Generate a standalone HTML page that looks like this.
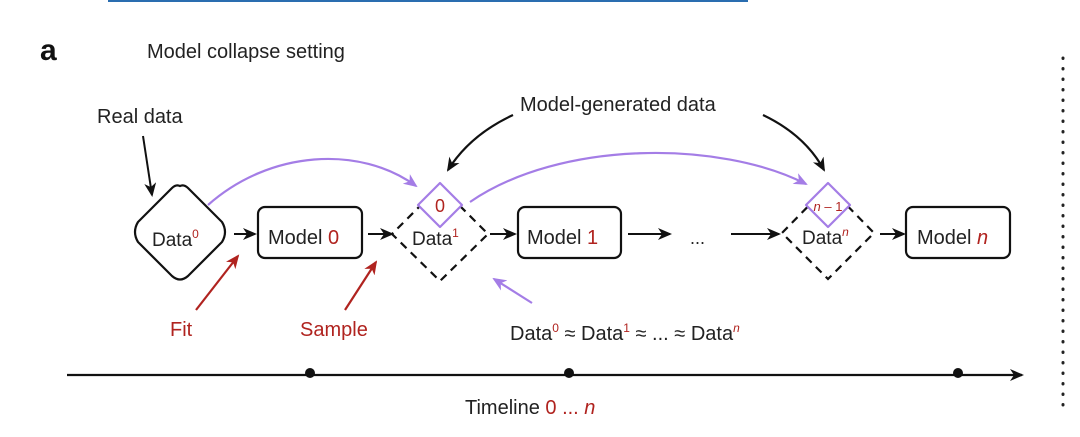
<!DOCTYPE html>
<html><head><meta charset="utf-8"><style>
html,body{margin:0;padding:0;background:#fff;}
svg{display:block;font-family:"Liberation Sans",sans-serif;}
</style></head><body>
<svg width="1080" height="437" viewBox="0 0 1080 437" xmlns="http://www.w3.org/2000/svg">
<defs>
<marker id="ab" markerWidth="14" markerHeight="12" refX="12" refY="6" orient="auto" markerUnits="userSpaceOnUse"><path d="M0,0 L14,6 L0,12 L4,6 Z" fill="#111"/></marker>
<marker id="ar" markerWidth="14" markerHeight="12" refX="12" refY="6" orient="auto" markerUnits="userSpaceOnUse"><path d="M0,0 L14,6 L0,12 L4,6 Z" fill="#b0231f"/></marker>
<marker id="ap" markerWidth="14" markerHeight="12" refX="12" refY="6" orient="auto" markerUnits="userSpaceOnUse"><path d="M0,0 L14,6 L0,12 L4,6 Z" fill="#a47de6"/></marker>
</defs>
<line x1="108" y1="1" x2="748" y2="1" stroke="#2a6db0" stroke-width="2"/>
<text x="40" y="60" font-size="30" font-weight="bold" fill="#111">a</text>
<text x="147" y="58" font-size="20" fill="#222">Model collapse setting</text>
<text x="97" y="123" font-size="20" fill="#222">Real data</text>
<text x="520" y="111" font-size="20" fill="#222">Model-generated data</text>
<line x1="143" y1="136" x2="152" y2="195" stroke="#111" stroke-width="2" marker-end="url(#ab)"/>
<path d="M513,115 Q470,135 448,170" fill="none" stroke="#111" stroke-width="2.2" marker-end="url(#ab)"/>
<path d="M763,115 Q805,135 824,170" fill="none" stroke="#111" stroke-width="2.2" marker-end="url(#ab)"/>
<path d="M180,186 Q184,184 188,188 L222,222 Q228,232 222,242 L188,276 Q180,283 172,276 L138,242 Q132,232 138,222 L172,188 Q176,184 180,186 Z" fill="none" stroke="#111" stroke-width="2.2"/>
<text x="152" y="246" font-size="19" fill="#222">Data<tspan dy="-8" font-size="12" fill="#b0231f">0</tspan></text>
<line x1="234" y1="234" x2="255" y2="234" stroke="#111" stroke-width="2" marker-end="url(#ab)"/>
<rect x="258" y="207" width="104" height="51" rx="7" fill="none" stroke="#111" stroke-width="2.2"/>
<text x="268" y="244" font-size="20" fill="#222">Model <tspan fill="#b0231f">0</tspan></text>
<line x1="368" y1="234" x2="392" y2="234" stroke="#111" stroke-width="2" marker-end="url(#ab)"/>
<path d="M440,186 L488,234 L440,281 L392,234 Z" fill="none" stroke="#111" stroke-width="2.2" stroke-dasharray="8,6"/>
<path d="M440,183 L462,205 L440,227 L418,205 Z" fill="#fff" stroke="#a47de6" stroke-width="2.2" stroke-linejoin="round"/>
<text x="440" y="212" font-size="18" fill="#b0231f" text-anchor="middle">0</text>
<text x="412" y="245" font-size="19" fill="#222">Data<tspan dy="-8" font-size="12" fill="#b0231f">1</tspan></text>
<line x1="490" y1="234" x2="515" y2="234" stroke="#111" stroke-width="2" marker-end="url(#ab)"/>
<rect x="518" y="207" width="103" height="51" rx="7" fill="none" stroke="#111" stroke-width="2.2"/>
<text x="527" y="244" font-size="20" fill="#222">Model <tspan fill="#b0231f">1</tspan></text>
<line x1="628" y1="234" x2="670" y2="234" stroke="#111" stroke-width="2" marker-end="url(#ab)"/>
<text x="690" y="244" font-size="18" fill="#222">...</text>
<line x1="731" y1="234" x2="779" y2="234" stroke="#111" stroke-width="2" marker-end="url(#ab)"/>
<path d="M828,186 L874,233 L828,279 L782,233 Z" fill="none" stroke="#111" stroke-width="2.2" stroke-dasharray="8,6"/>
<path d="M828,183 L850,205 L828,227 L806,205 Z" fill="#fff" stroke="#a47de6" stroke-width="2.2" stroke-linejoin="round"/>
<text x="828" y="211" font-size="13" fill="#b0231f" text-anchor="middle"><tspan font-style="italic">n</tspan> – 1</text>
<text x="802" y="244" font-size="19" fill="#222">Data<tspan dy="-8" font-size="12" fill="#b0231f" font-style="italic">n</tspan></text>
<line x1="880" y1="234" x2="904" y2="234" stroke="#111" stroke-width="2" marker-end="url(#ab)"/>
<rect x="906" y="207" width="104" height="51" rx="7" fill="none" stroke="#111" stroke-width="2.2"/>
<text x="917" y="244" font-size="20" fill="#222">Model <tspan fill="#b0231f" font-style="italic">n</tspan></text>
<path d="M208,205 C270,150 360,145 416,186" fill="none" stroke="#a47de6" stroke-width="2.2" marker-end="url(#ap)"/>
<path d="M470,202 C560,140 720,140 806,184" fill="none" stroke="#a47de6" stroke-width="2.2" marker-end="url(#ap)"/>
<line x1="196" y1="310" x2="238" y2="256" stroke="#b0231f" stroke-width="2.2" marker-end="url(#ar)"/>
<line x1="345" y1="310" x2="376" y2="262" stroke="#b0231f" stroke-width="2.2" marker-end="url(#ar)"/>
<text x="170" y="336" font-size="20" fill="#b0231f">Fit</text>
<text x="300" y="336" font-size="20" fill="#b0231f">Sample</text>
<line x1="532" y1="303" x2="494" y2="279" stroke="#a47de6" stroke-width="2.2" marker-end="url(#ap)"/>
<text x="510" y="340" font-size="20" fill="#222">Data<tspan dy="-8" font-size="12" fill="#b0231f">0</tspan><tspan dy="8"> ≈ Data</tspan><tspan dy="-8" font-size="12" fill="#b0231f">1</tspan><tspan dy="8"> ≈ ... ≈ Data</tspan><tspan dy="-8" font-size="12" fill="#b0231f" font-style="italic">n</tspan></text>
<line x1="67" y1="375" x2="1022" y2="375" stroke="#111" stroke-width="2.2" marker-end="url(#ab)"/>
<circle cx="310" cy="373" r="5" fill="#111"/>
<circle cx="569" cy="373" r="5" fill="#111"/>
<circle cx="958" cy="373" r="5" fill="#111"/>
<text x="465" y="414" font-size="20" fill="#222">Timeline <tspan fill="#b0231f">0 ... </tspan><tspan fill="#b0231f" font-style="italic">n</tspan></text>
<line x1="1063" y1="58" x2="1063" y2="412" stroke="#222" stroke-width="3" stroke-dasharray="0.5,10" stroke-linecap="round"/>
</svg>
</body></html>
